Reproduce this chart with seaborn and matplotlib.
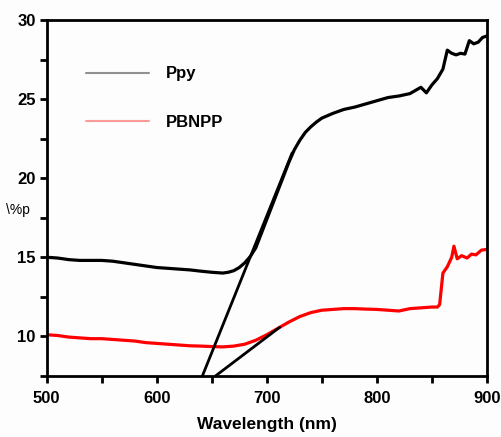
import numpy as np
import pandas as pd
import matplotlib
matplotlib.use("Agg")
import matplotlib.pyplot as plt
from matplotlib.lines import Line2D
from matplotlib.ticker import MultipleLocator
import seaborn as sns

# data
ppy_x = [500, 510, 520, 530, 540, 550, 560, 570, 580, 590, 600, 610, 620, 630, 640,
         650, 660, 665, 670, 675, 680, 685, 690, 700, 710, 715, 720, 725, 730, 735,
         740, 745, 750, 760, 770, 780, 790, 800, 810, 820, 830, 840, 845, 850, 855,
         860, 864, 868, 872, 876, 880, 884, 888, 892, 896, 900]
ppy_y = [15.0, 14.95, 14.85, 14.8, 14.8, 14.8, 14.75, 14.65, 14.55, 14.45, 14.35, 14.3,
         14.25, 14.2, 14.12, 14.05, 14.0, 14.05, 14.15, 14.35, 14.65, 15.05, 15.6, 17.4,
         19.2, 20.1, 21.0, 21.8, 22.4, 22.9, 23.25, 23.55, 23.8, 24.1, 24.35, 24.5,
         24.7, 24.9, 25.1, 25.2, 25.35, 25.75, 25.4, 25.9, 26.3, 26.9, 28.1, 27.9,
         27.8, 27.9, 27.85, 28.7, 28.5, 28.6, 28.9, 29.0]

pbnpp_x = [500, 510, 520, 530, 540, 550, 560, 570, 580, 590, 600, 610, 620, 630, 640,
           650, 660, 670, 680, 690, 700, 710, 720, 730, 740, 750, 760, 770, 780, 790,
           800, 810, 820, 830, 840, 850, 855, 857, 860, 864, 868, 870, 873, 877, 882,
           886, 890, 895, 900]
pbnpp_y = [10.1, 10.05, 9.95, 9.9, 9.85, 9.85, 9.8, 9.75, 9.7, 9.6, 9.55, 9.5, 9.45,
           9.4, 9.38, 9.35, 9.33, 9.38, 9.5, 9.75, 10.1, 10.5, 10.9, 11.25, 11.5, 11.65,
           11.7, 11.75, 11.75, 11.72, 11.7, 11.65, 11.6, 11.75, 11.8, 11.85, 11.85, 12.0,
           14.0, 14.4, 15.0, 15.7, 14.9, 15.1, 14.95, 15.2, 15.15, 15.45, 15.5]

# tangent (band edge) lines
tan1_x = [641.5, 723]
tan1_y = [7.5, 21.6]
tan2_x = [653.5, 711.7]
tan2_y = [7.5, 10.57]

labels = ["Ppy", "PBNPP"]

sns.set_style("ticks")
plt.rcParams['font.family'] = ['Liberation Sans', 'DejaVu Sans']
plt.rcParams['text.color'] = 'black'
plt.rcParams['axes.labelcolor'] = 'black'
plt.rcParams['xtick.color'] = 'black'
plt.rcParams['ytick.color'] = 'black'
plt.rcParams['axes.edgecolor'] = 'black'

fig = plt.figure(figsize=(5.02, 4.37), dpi=100)
fig.patch.set_facecolor("#fdfdfd")
ax = fig.add_axes([0.093, 0.140, 0.877, 0.814])
ax.set_facecolor("#fdfdfd")

df1 = pd.DataFrame({"x": ppy_x, "y": ppy_y})
df2 = pd.DataFrame({"x": pbnpp_x, "y": pbnpp_y})
sns.lineplot(data=df1, x="x", y="y", ax=ax, color="black", lw=2.3, estimator=None, sort=False)
sns.lineplot(data=df2, x="x", y="y", ax=ax, color="#ff0000", lw=2.3, estimator=None, sort=False)
ax.plot(tan1_x, tan1_y, color="black", lw=2.0)
ax.plot(tan2_x, tan2_y, color="black", lw=2.0)

ax.set_xlim(500, 900)
ax.set_ylim(7.5, 30)
ax.xaxis.set_major_locator(MultipleLocator(100))
ax.xaxis.set_minor_locator(MultipleLocator(50))
ax.yaxis.set_major_locator(MultipleLocator(5))
ax.yaxis.set_minor_locator(MultipleLocator(2.5))
ax.tick_params(which="both", direction="out", length=5, width=2, top=False, right=False,
               color="black", labelcolor="black")
ax.tick_params(which="major", labelsize=12, pad=3)
ax.tick_params(axis="x", which="major", pad=6)
for lab in ax.get_xticklabels() + ax.get_yticklabels():
    lab.set_fontweight("bold")
for sp in ax.spines.values():
    sp.set_linewidth(2)
    sp.set_visible(True)
    sp.set_color("black")

ax.set_xlabel("Wavelength (nm)", fontsize=12.5, fontweight="bold", labelpad=8, color="black")
ax.set_ylabel("")
fig.text(0.012, 0.52, "\\%p", fontsize=10, ha="left", va="center", color="black")

handles = [Line2D([], [], color="#909090", lw=1.5),
           Line2D([], [], color="#ff9a9a", lw=1.5)]
leg = ax.legend(handles, labels, loc="upper left", bbox_to_anchor=(0.089, 0.87),
                frameon=False, borderpad=0, borderaxespad=0, handlelength=3.8,
                handletextpad=1.0, labelspacing=2.0,
                prop={"size": 12, "weight": "bold"})
for t in leg.get_texts():
    t.set_color("black")

fig.savefig("out.png", dpi=100, facecolor=fig.get_facecolor())
